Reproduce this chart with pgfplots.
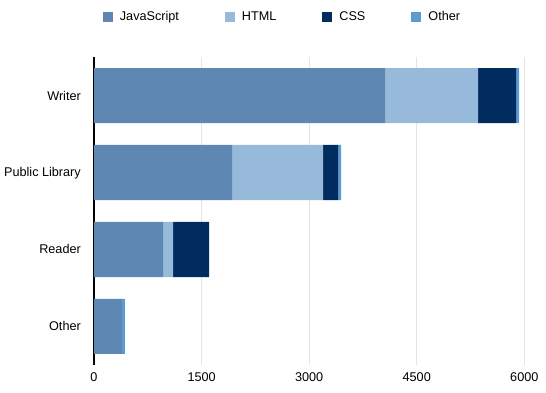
\documentclass[border=0pt]{standalone}
\usepackage{fontspec}
\setmainfont{Liberation Sans}
\usepackage{pgfplots}
\pgfplotsset{compat=1.18}

\definecolor{cJS}{HTML}{5E87B4}
\definecolor{cHTML}{HTML}{97BADA}
\definecolor{cCSS}{HTML}{002C5F}
\definecolor{cOther}{HTML}{5A9BD4}
\definecolor{gridgray}{HTML}{E4E4E4}

\begin{document}
\begin{tikzpicture}
\useasboundingbox (0,0) rectangle (546bp,393bp);
\begin{axis}[
  at={(94bp,28bp)}, anchor=south west,
  scale only axis,
  width=430.3bp, height=308bp,
  xbar stacked,
  bar width=55bp,
  xmin=0, xmax=6000,
  ymin=-0.5, ymax=3.5,
  font=\fontsize{12.7}{15}\selectfont,
  xtick={0,1500,3000,4500,6000},
  xticklabels={0,1500,3000,4500,6000},
  ytick={0,1,2,3},
  yticklabels={Other,Reader,Public Library,Writer},
  major tick length=0pt,
  xmajorgrids,
  grid style={gridgray, line width=0.8bp},
  axis lines*=left,
  x axis line style={draw=none},
  y axis line style={black, line width=1.3bp},
  xticklabel style={inner sep=0pt, anchor=base, yshift=-17bp},
  yticklabel style={inner sep=0pt, anchor=base east, xshift=-13bp, yshift=-4.5bp},
  legend columns=4,
  legend style={
    draw=none, fill=none,
    at={(0.4357,1.13)}, anchor=center,
    nodes={inner sep=0pt},
    /tikz/every odd column/.append style={column sep=7bp},
    /tikz/every even column/.append style={column sep=46bp},
    font=\fontsize{12.7}{15}\selectfont,
  },
  legend image code/.code={\fill[#1] (0bp,-5bp) rectangle (10bp,5bp);},
]
% y: 3 = Writer, 2 = Public Library, 1 = Reader, 0 = Other
\addplot[fill=cJS, draw=none] coordinates {(390,0) (963,1) (1925,2) (4060,3)};
\addlegendentry{JavaScript}
\addplot[fill=cHTML, draw=none] coordinates {(0,0) (139,1) (1270,2) (1297,3)};
\addlegendentry{HTML}
\addplot[fill=cCSS, draw=none] coordinates {(0,0) (502,1) (210,2) (530,3)};
\addlegendentry{CSS}
\addplot[fill=cOther, draw=none] coordinates {(42,0) (0,1) (42,2) (42,3)};
\addlegendentry{Other}
\end{axis}
\end{tikzpicture}
\end{document}
